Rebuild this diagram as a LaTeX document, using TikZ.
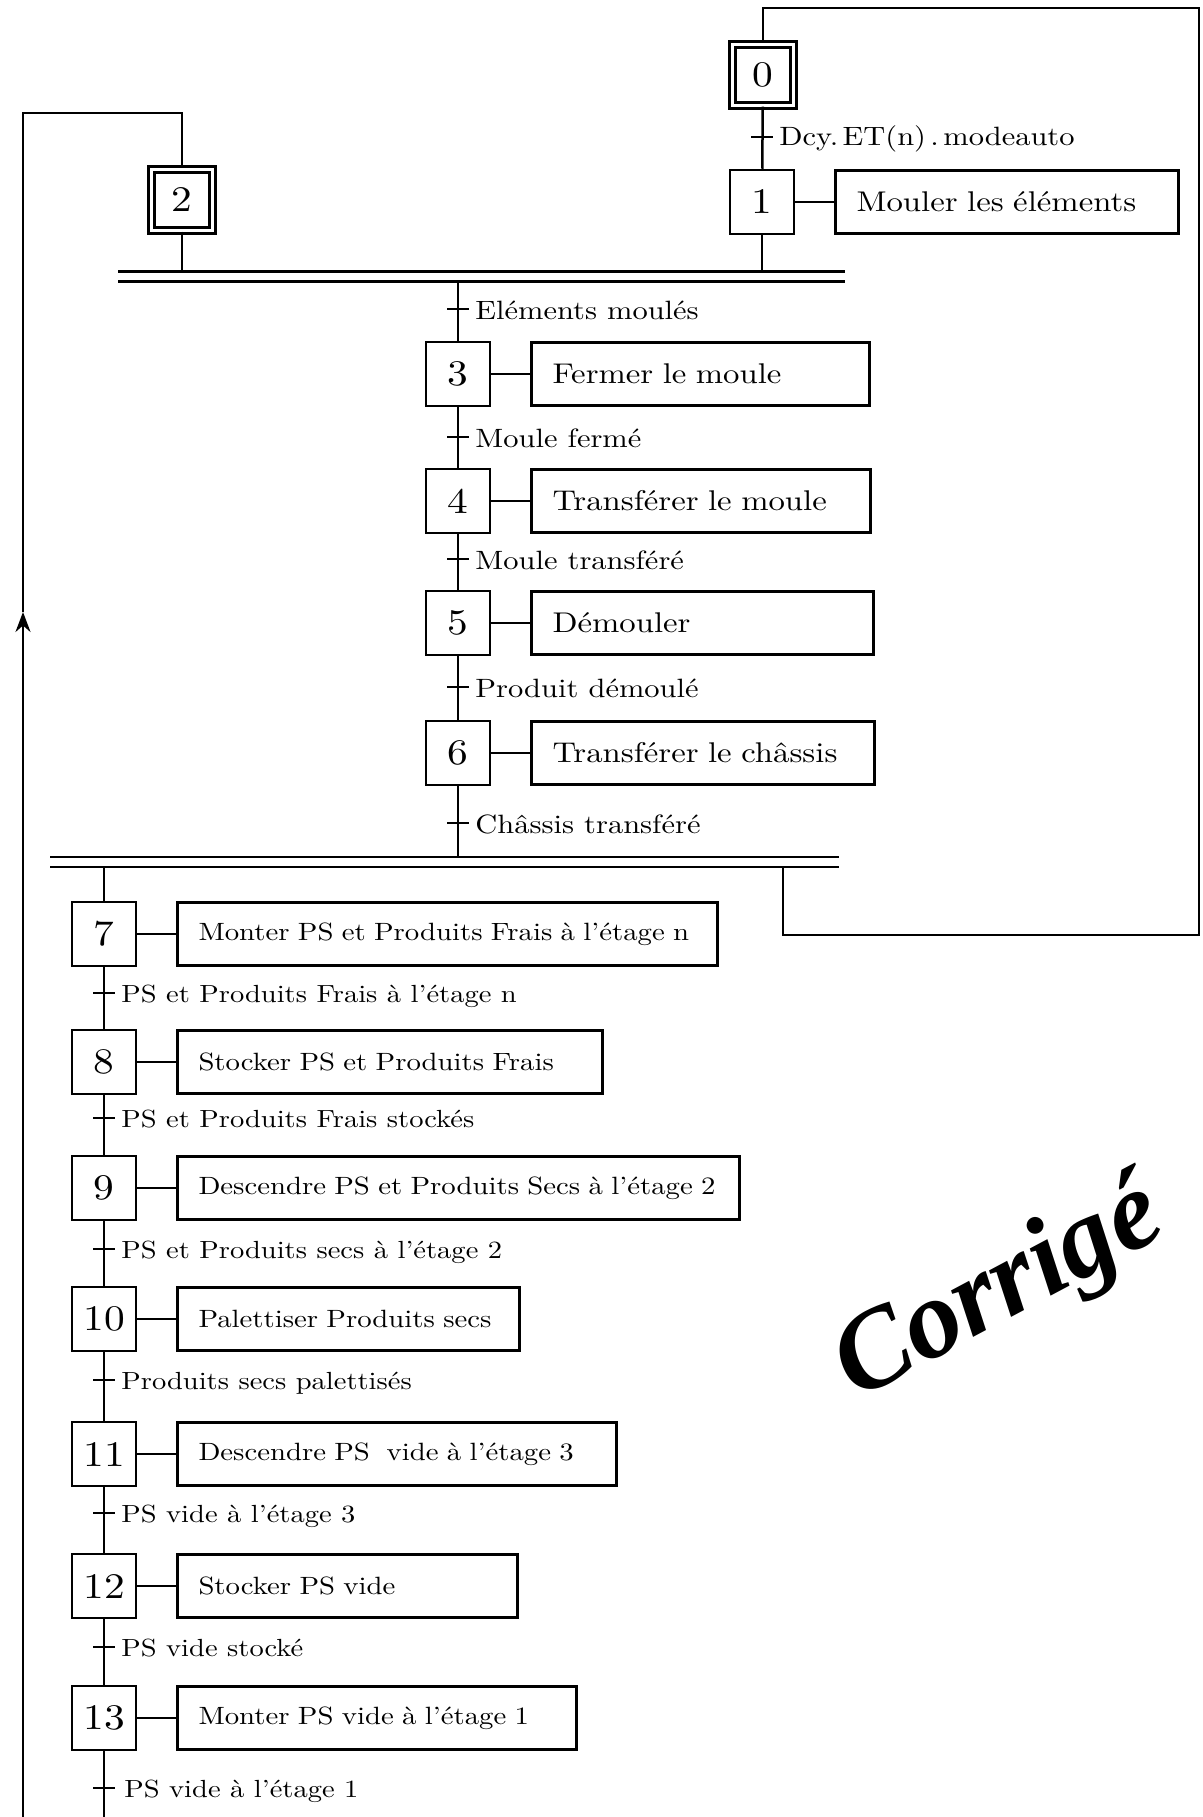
\documentclass[tikz,border=0pt]{standalone}
\usepackage{fontspec}
\usetikzlibrary{positioning,arrows.meta}
\newfontfamily\grafcet{lmroman10-regular.otf}[FakeStretch=1.15]
\newfontfamily\stampfont{Liberation Serif}
\frenchspacing
\tikzset{
  etape/.style={draw,line width=2.5pt,minimum size=64pt,inner sep=0pt,font=\grafcet\fontsize{36}{36}\selectfont},
  etapeinit/.style={etape,line width=2.2pt,double,double distance=3.8pt,minimum size=61pt},
  action/.style={draw,line width=2.5pt,minimum height=63pt,inner xsep=21pt,inner ysep=0pt,text width=#1,align=left,font=\grafcet\fontsize{28.5}{34}\selectfont},
  petit/.style={font=\grafcet\fontsize{25}{30}\selectfont},
  recep/.style={fill=black,minimum width=22pt,minimum height=2.5pt,inner sep=0pt},
  recepnom/.style={anchor=base west,inner sep=0pt,font=\grafcet\fontsize{26.5}{32}\selectfont},
  recepbas/.style={recepnom,font=\grafcet\fontsize{24.8}{30}\selectfont},
  liaison/.style={line width=2.5pt},
  barre/.style={line width=2.5pt,double,double distance=7.5pt},
}
\begin{document}
\begin{tikzpicture}[x=1pt,y=-1pt]
  \useasboundingbox (0,0) rectangle (1202,1817);
  % etapes
  \node[etapeinit] (s0) at (763,75) {0};
  \node[etape] (s1) at (762,202) {1};
  \node[etapeinit] (s2) at (182,200) {2};
  \node[etape] (s3) at (458,374) {3};
  \node[etape] (s4) at (458,501) {4};
  \node[etape] (s5) at (458,623) {5};
  \node[etape] (s6) at (458,753) {6};
  \node[etape] (s7) at (104,934) {7};
  \node[etape] (s8) at (104,1062) {8};
  \node[etape] (s9) at (104,1188) {9};
  \node[etape] (s10) at (104,1319) {10};
  \node[etape] (s11) at (104,1454) {11};
  \node[etape] (s12) at (104,1586) {12};
  \node[etape] (s13) at (104,1718) {13};
  % actions
  \node[action=301pt,right=39pt of s1] (a1) {Mouler les éléments};
  \node[action=296pt,right=39pt of s3] (a3) {Fermer le moule};
  \node[action=297pt,right=39pt of s4] (a4) {Transférer le moule};
  \node[action=300pt,right=39pt of s5] (a5) {Démouler};
  \node[action=301pt,right=39pt of s6] (a6) {Transférer le châssis};
  \node[action=498pt,petit,right=39pt of s7] (a7) {Monter PS et Produits Frais à l’étage n};
  \node[action=383pt,petit,right=39pt of s8] (a8) {Stocker PS et Produits Frais};
  \node[action=520pt,petit,right=39pt of s9] (a9) {Descendre PS et Produits Secs à l’étage 2};
  \node[action=300pt,petit,right=39pt of s10] (a10) {Palettiser Produits secs};
  \node[action=397pt,petit,right=39pt of s11] (a11) {Descendre PS\ \ vide à l’étage 3};
  \node[action=298pt,petit,right=39pt of s12] (a12) {Stocker PS vide};
  \node[action=357pt,petit,right=39pt of s13] (a13) {Monter PS vide à l’étage 1};
  \foreach \n in {1,3,4,5,6,7,8,9,10,11,12,13}
    \draw[liaison] (s\n) -- (a\n);
  % coordonnees des liaisons
  \coordinate (b1) at (480,276.5);
  \coordinate (b2) at (440,862);
  \coordinate (retour0) at (783,862);
  \coordinate (coinbas0) at (1199,935);
  \coordinate (coinhaut0) at (1199,8);
  \coordinate (coin2) at (23,113);
  \coordinate (fleche2) at (23,612);
  \coordinate (bas2) at (23,1817);
  \coordinate (fin13) at (104,1817);
  % liaisons
  \draw[liaison] (s0) -- (s1);
  \draw[liaison] (s1) -- (s1 |- b1);
  \draw[liaison] (s2) -- (s2 |- b1);
  \draw[liaison] (b1 -| s3) -- (s3);
  \draw[liaison] (s3) -- (s4);
  \draw[liaison] (s4) -- (s5);
  \draw[liaison] (s5) -- (s6);
  \draw[liaison] (s6) -- (s6 |- b2);
  \draw[liaison] (b2 -| s7) -- (s7);
  \draw[liaison] (s7) -- (s8);
  \draw[liaison] (s8) -- (s9);
  \draw[liaison] (s9) -- (s10);
  \draw[liaison] (s10) -- (s11);
  \draw[liaison] (s11) -- (s12);
  \draw[liaison] (s12) -- (s13);
  \draw[liaison] (s13) -- (fin13);
  \draw[liaison] (retour0) |- (coinbas0) -- (coinhaut0) -| (s0);
  \draw[liaison,-{Stealth[length=20pt,width=15pt]}] (bas2) -- (fleche2);
  \draw[liaison] (fleche2) -- (coin2) -| (s2);
  % convergence et divergence en ET
  \draw[barre] (118,276.5) -- (845,276.5);
  \draw[barre] (50,862) -- (839,862);
  % receptivites
  \node[recep] (t0) at (762,137) {};
  \node[recepnom] (n0) at ([xshift=6pt,yshift=-9pt]t0.east) {Dcy.\,ET(n)\,.\,modeauto};
  \node[recep] (t2) at (458,309) {};
  \node[recepnom] (n2) at ([xshift=6pt,yshift=-10pt]t2.east) {Eléments moulés};
  \node[recep] (t3) at (458,437) {};
  \node[recepnom] (n3) at ([xshift=6pt,yshift=-10pt]t3.east) {Moule fermé};
  \node[recep] (t4) at (458,559) {};
  \node[recepnom] (n4) at ([xshift=6pt,yshift=-10pt]t4.east) {Moule transféré};
  \node[recep] (t5) at (458,687) {};
  \node[recepnom] (n5) at ([xshift=6pt,yshift=-10pt]t5.east) {Produit démoulé};
  \node[recep] (t6) at (458,823) {};
  \node[recepnom] (n6) at ([xshift=6pt,yshift=-10pt]t6.east) {Châssis transféré};
  \node[recep] (t7) at (104,993) {};
  \node[recepbas] (n7) at ([xshift=6pt,yshift=-9pt]t7.east) {PS et Produits Frais à l’étage n};
  \node[recep] (t8) at (104,1118) {};
  \node[recepbas] (n8) at ([xshift=6pt,yshift=-9pt]t8.east) {PS et Produits Frais stockés};
  \node[recep] (t9) at (104,1249) {};
  \node[recepbas] (n9) at ([xshift=6pt,yshift=-9pt]t9.east) {PS et Produits secs à l’étage 2};
  \node[recep] (t10) at (104,1380) {};
  \node[recepbas] (n10) at ([xshift=6pt,yshift=-9pt]t10.east) {Produits secs palettisés};
  \node[recep] (t11) at (104,1513) {};
  \node[recepbas] (n11) at ([xshift=6pt,yshift=-9pt]t11.east) {PS vide à l’étage 3};
  \node[recep] (t12) at (104,1647) {};
  \node[recepbas] (n12) at ([xshift=6pt,yshift=-9pt]t12.east) {PS vide stocké};
  \node[recep] (t13) at (104,1788) {};
  \node[recepbas] (n13) at ([xshift=9pt,yshift=-9pt]t13.east) {PS vide à l’étage 1};
  % tampon
  \node[rotate=28,inner sep=0pt,font=\stampfont\bfseries\itshape\fontsize{112}{112}\selectfont] (corrige) at (1000,1293) {Corrigé};
\end{tikzpicture}
\end{document}
